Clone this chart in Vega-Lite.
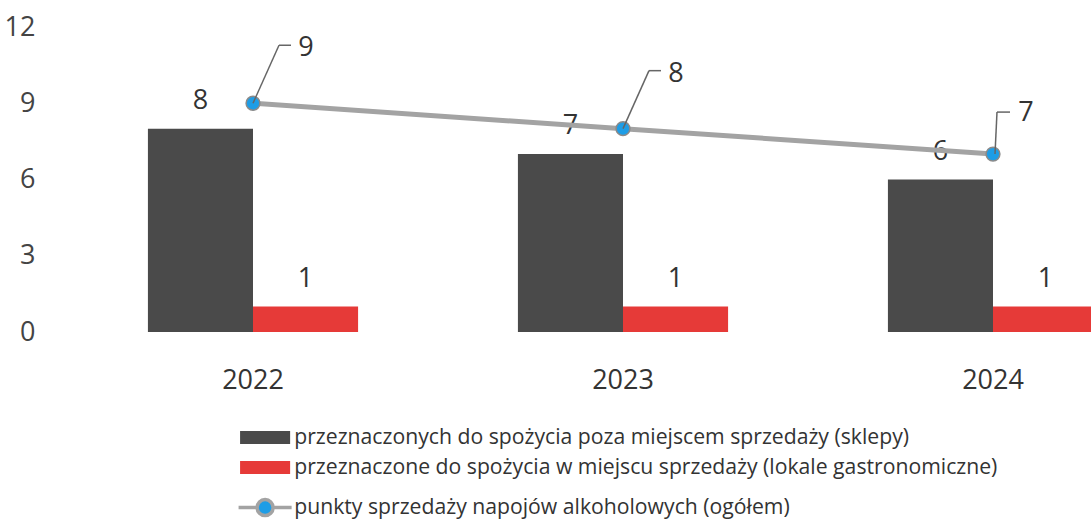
{
  "$schema": "https://vega.github.io/schema/vega-lite/v6.json",
  "autosize": "none",
  "width": 1023,
  "height": 305,
  "padding": {"left": 68, "top": 27, "right": 0, "bottom": 190},
  "background": "#ffffff",
  "config": {
    "view": {"stroke": null},
    "font": "Open Sans",
    "axis": {"labelFont": "Open Sans", "grid": false, "domain": false, "ticks": false}
  },
  "datasets": {
    "bars": [
      {"year": "2022", "category": "przeznaczonych do spożycia poza miejscem sprzedaży (sklepy)", "value": 8},
      {"year": "2022", "category": "przeznaczone do spożycia w miejscu sprzedaży (lokale gastronomiczne)", "value": 1},
      {"year": "2023", "category": "przeznaczonych do spożycia poza miejscem sprzedaży (sklepy)", "value": 7},
      {"year": "2023", "category": "przeznaczone do spożycia w miejscu sprzedaży (lokale gastronomiczne)", "value": 1},
      {"year": "2024", "category": "przeznaczonych do spożycia poza miejscem sprzedaży (sklepy)", "value": 6},
      {"year": "2024", "category": "przeznaczone do spożycia w miejscu sprzedaży (lokale gastronomiczne)", "value": 1}
    ],
    "totals": [
      {"year": "2022", "total": 9},
      {"year": "2023", "total": 8},
      {"year": "2024", "total": 7}
    ]
  },
  "encoding": {
    "x": {
      "field": "year", "type": "nominal",
      "scale": {"paddingInner": 0.432, "paddingOuter": 0.216, "range": [0, 1110]},
      "axis": {"title": null, "labelAngle": 0, "labelFontSize": 27, "labelColor": "#333333", "labelPadding": 35}
    }
  },
  "layer": [
    {
      "data": {"name": "bars"},
      "mark": {"type": "bar"},
      "encoding": {
        "xOffset": {"field": "category", "type": "nominal", "sort": ["przeznaczonych do spożycia poza miejscem sprzedaży (sklepy)", "przeznaczone do spożycia w miejscu sprzedaży (lokale gastronomiczne)"], "scale": {"paddingInner": 0, "paddingOuter": 0}},
        "y": {
          "field": "value", "type": "quantitative",
          "scale": {"domain": [0, 12], "nice": false},
          "axis": {"title": null, "values": [0, 3, 6, 9, 12], "labelFontSize": 27, "labelColor": "#444444", "labelPadding": 33}
        },
        "fill": {
          "field": "category", "type": "nominal",
          "scale": {
            "domain": ["przeznaczonych do spożycia poza miejscem sprzedaży (sklepy)", "przeznaczone do spożycia w miejscu sprzedaży (lokale gastronomiczne)"],
            "range": ["#4a4a4a", "#e63a38"]
          },
          "legend": {
            "title": null, "orient": "none", "legendX": 186.5, "legendY": 400,
            "symbolType": "M-3.85,-1H3.85V1H-3.85Z", "symbolSize": 169, "symbolStrokeWidth": 0,
            "labelFont": "Open Sans", "labelFontSize": 21.2, "labelColor": "#333333", "labelOffset": 18.5,
            "rowPadding": 8, "labelLimit": 900
          }
        }
      }
    },
    {
      "data": {"name": "bars"},
      "mark": {"type": "text", "fontSize": 27, "color": "#333333", "baseline": "middle", "dy": -28},
      "encoding": {
        "xOffset": {"field": "category", "type": "nominal", "sort": ["przeznaczonych do spożycia poza miejscem sprzedaży (sklepy)", "przeznaczone do spożycia w miejscu sprzedaży (lokale gastronomiczne)"]},
        "y": {"field": "value", "type": "quantitative"},
        "text": {"field": "value", "type": "quantitative"}
      }
    },
    {
      "data": {"name": "totals"},
      "mark": {"type": "line", "strokeWidth": 5},
      "encoding": {
        "y": {"field": "total", "type": "quantitative"},
        "stroke": {
          "datum": "punkty sprzedaży napojów alkoholowych (ogółem)",
          "scale": {"range": ["#a3a3a3"]},
          "legend": {
            "title": null, "orient": "none", "legendX": 186.5, "legendY": 470,
            "symbolType": "M-4.08,0H-1.23M1.23,0H4.08M-1.23,0A1.23,1.23 0 1,1 1.23,0A1.23,1.23 0 1,1 -1.23,0Z",
            "symbolSize": 169, "symbolStrokeWidth": 3.5, "symbolFillColor": "#1e9de6",
            "labelFont": "Open Sans", "labelFontSize": 21.2, "labelColor": "#333333", "labelOffset": 18.5, "labelLimit": 900
          }
        }
      }
    },
    {
      "data": {"name": "totals"},
      "mark": {"type": "point", "filled": true, "size": 190, "fill": "#1e9de6", "stroke": "#8a8a8a", "strokeWidth": 1.5, "opacity": 1},
      "encoding": {"y": {"field": "total", "type": "quantitative"}}
    },
    {
      "data": {"name": "totals"},
      "transform": [{"filter": "datum.year != '2024'"}],
      "mark": {"type": "rule", "stroke": "#666666", "strokeWidth": 1.5, "x2Offset": 26, "y2Offset": -58},
      "encoding": {
        "x2": {"field": "year"},
        "y": {"field": "total", "type": "quantitative"},
        "y2": {"field": "total"}
      }
    },
    {
      "data": {"name": "totals"},
      "transform": [{"filter": "datum.year != '2024'"}],
      "mark": {"type": "rule", "stroke": "#666666", "strokeWidth": 1.5, "xOffset": 26, "x2Offset": 38, "yOffset": -58, "y2Offset": -58},
      "encoding": {
        "x2": {"field": "year"},
        "y": {"field": "total", "type": "quantitative"},
        "y2": {"field": "total"}
      }
    },
    {
      "data": {"name": "totals"},
      "transform": [{"filter": "datum.year == '2024'"}],
      "mark": {"type": "rule", "stroke": "#666666", "strokeWidth": 1.5, "xOffset": 2, "x2Offset": 4, "y2Offset": -42},
      "encoding": {
        "x2": {"field": "year"},
        "y": {"field": "total", "type": "quantitative"},
        "y2": {"field": "total"}
      }
    },
    {
      "data": {"name": "totals"},
      "transform": [{"filter": "datum.year == '2024'"}],
      "mark": {"type": "rule", "stroke": "#666666", "strokeWidth": 1.5, "xOffset": 4, "x2Offset": 17, "yOffset": -42, "y2Offset": -42},
      "encoding": {
        "x2": {"field": "year"},
        "y": {"field": "total", "type": "quantitative"},
        "y2": {"field": "total"}
      }
    },
    {
      "data": {"name": "totals"},
      "transform": [{"filter": "datum.year != '2024'"}],
      "mark": {"type": "text", "fontSize": 27, "color": "#333333", "baseline": "middle", "xOffset": 53, "yOffset": -55},
      "encoding": {
        "y": {"field": "total", "type": "quantitative"},
        "text": {"field": "total", "type": "quantitative"}
      }
    },
    {
      "data": {"name": "totals"},
      "transform": [{"filter": "datum.year == '2024'"}],
      "mark": {"type": "text", "fontSize": 27, "color": "#333333", "baseline": "middle", "xOffset": 33, "yOffset": -41},
      "encoding": {
        "y": {"field": "total", "type": "quantitative"},
        "text": {"field": "total", "type": "quantitative"}
      }
    }
  ]
}
